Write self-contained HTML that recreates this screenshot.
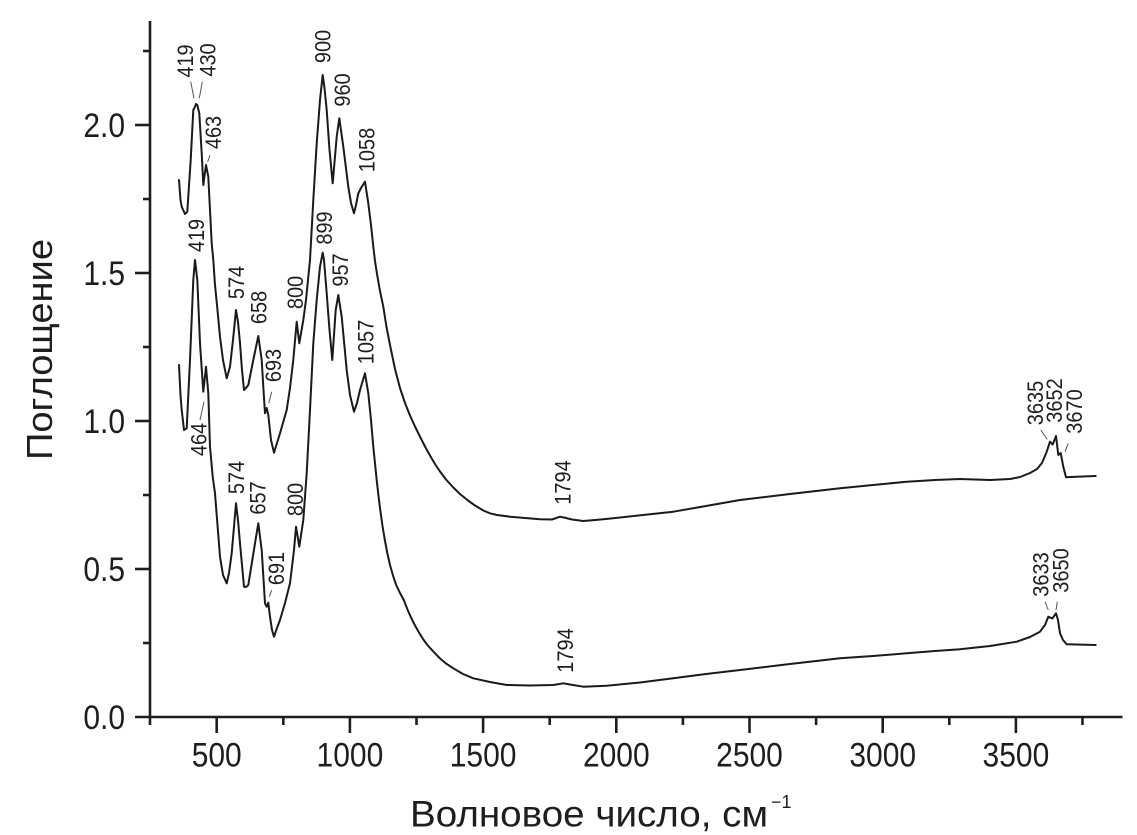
<!DOCTYPE html>
<html><head><meta charset="utf-8"><style>
html,body{margin:0;padding:0;background:#fff;}
svg{display:block;}
text{font-family:"Liberation Sans",Arial,sans-serif;fill:#1e1e1e;}
</style></head><body>
<svg width="1137" height="835" viewBox="0 0 1137 835" xmlns="http://www.w3.org/2000/svg">
<rect width="1137" height="835" fill="#fff"/>
<!-- axes -->
<g stroke="#1e1e1e" stroke-width="2.6" fill="none">
<line x1="150" y1="21" x2="150" y2="725"/>
<line x1="135" y1="717" x2="1122.5" y2="717"/>
<line x1="135" y1="569" x2="150" y2="569"/>
<line x1="135" y1="421" x2="150" y2="421"/>
<line x1="135" y1="273" x2="150" y2="273"/>
<line x1="135" y1="125" x2="150" y2="125"/>
<line x1="143" y1="643" x2="150" y2="643"/>
<line x1="143" y1="495" x2="150" y2="495"/>
<line x1="143" y1="347" x2="150" y2="347"/>
<line x1="143" y1="199" x2="150" y2="199"/>
<line x1="143" y1="51" x2="150" y2="51"/>
<line x1="216.7" y1="717" x2="216.7" y2="733"/>
<line x1="349.9" y1="717" x2="349.9" y2="733"/>
<line x1="483.1" y1="717" x2="483.1" y2="733"/>
<line x1="616.3" y1="717" x2="616.3" y2="733"/>
<line x1="749.5" y1="717" x2="749.5" y2="733"/>
<line x1="882.7" y1="717" x2="882.7" y2="733"/>
<line x1="1015.9" y1="717" x2="1015.9" y2="733"/>
<line x1="283.3" y1="717" x2="283.3" y2="725"/>
<line x1="416.5" y1="717" x2="416.5" y2="725"/>
<line x1="549.7" y1="717" x2="549.7" y2="725"/>
<line x1="682.9" y1="717" x2="682.9" y2="725"/>
<line x1="816.1" y1="717" x2="816.1" y2="725"/>
<line x1="949.3" y1="717" x2="949.3" y2="725"/>
<line x1="1082.5" y1="717" x2="1082.5" y2="725"/>
</g>
<!-- y tick labels -->
<g font-size="30" text-anchor="end">
<text transform="translate(125,717) scale(1,1.15)" y="10.6">0.0</text>
<text transform="translate(125,569) scale(1,1.15)" y="10.6">0.5</text>
<text transform="translate(125,421) scale(1,1.15)" y="10.6">1.0</text>
<text transform="translate(125,273) scale(1,1.15)" y="10.6">1.5</text>
<text transform="translate(125,125) scale(1,1.15)" y="10.6">2.0</text>
</g>
<!-- x tick labels -->
<g font-size="30" text-anchor="middle">
<text transform="translate(216.7,766.5) scale(1,1.15)">500</text>
<text transform="translate(349.9,766.5) scale(1,1.15)">1000</text>
<text transform="translate(483.1,766.5) scale(1,1.15)">1500</text>
<text transform="translate(616.3,766.5) scale(1,1.15)">2000</text>
<text transform="translate(749.5,766.5) scale(1,1.15)">2500</text>
<text transform="translate(882.7,766.5) scale(1,1.15)">3000</text>
<text transform="translate(1015.9,766.5) scale(1,1.15)">3500</text>
</g>
<!-- axis titles -->
<text x="410" y="826.7" font-size="37" textLength="358" lengthAdjust="spacingAndGlyphs">Волновое число, см</text>
<text x="771" y="808" font-size="18">−1</text>
<text transform="translate(52,349.5) rotate(-90)" text-anchor="middle" font-size="36" textLength="221" lengthAdjust="spacingAndGlyphs">Поглощение</text>

<!-- curves -->
<g stroke="#1a1a1a" stroke-width="2" fill="none" stroke-linejoin="round" stroke-linecap="round">
<path d="M179,180 L180.5,200 L181.7,206.7 L185,214 L187.3,211.7 L190.7,160 L193.3,110 L195,106.7 L196,104 L197.3,105 L199.3,113.3 L201.7,153.3 L203.3,185 L206,165 L208.3,176.7 L210,210 L211.7,243.3 L213.3,260 L215,285 L217,305 L220,336.7 L223,360 L226.7,378.3 L230,366.7 L233,340 L236,310 L238,322 L240,343 L242,370 L244,390 L246,388 L248.3,385 L253.3,360 L258.3,336 L261.7,360 L263.5,390 L265,413.3 L266.7,408 L268.3,415 L271,440 L274,452.7 L277,443 L280,433.3 L286.7,410 L290,388 L293.3,360 L296.7,321.7 L299.3,343.3 L303.3,320 L306,300 L310,260 L313.3,200 L316.7,143.3 L320,100 L322.7,75 L324.5,88 L326.7,110 L329.5,150 L332.7,183.3 L336.7,136.7 L339.3,118.3 L343.3,146.7 L348.3,186.7 L351,203 L354,213.3 L356,205 L358.3,193.3 L361,188 L365,181.7 L368.3,203.3 L371,225 L373.3,246.7 L375,261 L377,274 L380,291 L383.3,306.7 L386.5,327 L390,345 L395,369 L400,388 L405,403 L410,415.5 L415,426.5 L420,436.7 L425,446.5 L430,455.5 L435,464 L440,471.5 L446,479.5 L453.3,487.5 L460,494 L468,500.5 L475,505.5 L483.3,510.5 L490,513.3 L497,515 L510,516.7 L525,518 L540,519.3 L552,519.5 L560,516.7 L566,518 L572,519.5 L583.3,521 L598,519.8 L613.3,518.3 L643,515 L673.3,511.7 L706,506 L740,500 L790,494 L840,488.3 L873,485 L906.7,481.7 L935,480 L960,479 L990,480 L1010,479 L1020,477 L1030,473 L1037,469 L1042,463 L1046.7,451.7 L1050,441.7 L1052.7,444.5 L1056,436 L1058.3,455 L1060.7,453 L1063.3,466.7 L1066,477.3 L1070,477 L1095.7,476"/>
<path d="M179,365 L180.5,395 L181.7,410 L184,430 L186.7,428.3 L190,360 L193.3,280 L195,260 L197.3,280 L200,343.3 L203.3,391.7 L206,366.7 L208.3,393.3 L210,446.7 L212.7,476.7 L215,493.3 L220,556.7 L223,575 L226.7,583.3 L229,573 L231.7,553.3 L236,503.3 L238,520 L240,543.3 L244,586.7 L246,587 L248.3,585 L255,543.3 L258.3,523.3 L261.7,550 L265,603.3 L266.7,606.7 L268.3,602.7 L270,616.7 L272,630 L274,636.7 L277,628 L280,620 L285,603 L290,583.3 L294,550 L296,526.7 L299.3,546.7 L303.3,520 L306.7,473.3 L310,410 L313.3,343.3 L316.7,300 L320,266.7 L322.7,252.7 L324,260 L326.7,293.3 L329.5,330 L332.3,360 L335.7,310 L338.3,295 L341.7,316.7 L346.7,370 L350,395 L354,411.7 L357,403 L360,390 L365,373.3 L368.3,393.3 L371,420 L373.3,446.7 L376.7,480 L378.5,496 L380,508 L382.5,526 L385,541 L387.5,554 L390,565 L393,575.5 L396,584.5 L400,593 L403.8,600 L407.5,609.5 L411,617.5 L415,625.5 L419,632.5 L423,639 L427,644.5 L431,649 L434.6,652.8 L440,658.5 L446,663.5 L453.3,668.3 L463,674 L473.3,678.3 L490,682 L506.7,685 L530,685.5 L553.3,685 L563.3,683.3 L570,684.5 L583.3,686.7 L606.7,685.7 L640,682.5 L673.3,678.3 L706,674 L740,670 L790,664 L840,658.3 L873,656 L906.7,653.3 L935,651 L960,649.3 L990,646 L1016.7,641.7 L1030,637 L1040,631.7 L1045,625 L1048.3,616.7 L1052.3,618.5 L1056,613.3 L1058,620 L1060,633.3 L1063,640 L1066.7,644.3 L1095.7,645"/>
</g>
<!-- leader lines -->
<g stroke="#555" stroke-width="1" fill="none">
<line x1="190.7" y1="81.7" x2="194" y2="98.3"/>
<line x1="202.3" y1="81.7" x2="199.3" y2="98.3"/>
<line x1="210" y1="155" x2="207.7" y2="161.7"/>
<line x1="200" y1="420" x2="204" y2="401.7"/>
<line x1="271.7" y1="391.7" x2="268.7" y2="403.3"/>
<line x1="271.7" y1="590" x2="269.3" y2="596.7"/>
<line x1="1040.7" y1="430" x2="1047.3" y2="439.3"/>
<line x1="1068.3" y1="443.3" x2="1065" y2="451.7"/>
<line x1="1045" y1="601.7" x2="1048.3" y2="610"/>
<line x1="1057.3" y1="601.7" x2="1056" y2="610"/>
</g>
<!-- peak labels -->
<g font-size="20" text-anchor="middle">
<text transform="translate(193,61) rotate(-90) scale(1,1.12)">419</text>
<text transform="translate(215.3,60) rotate(-90) scale(1,1.12)">430</text>
<text transform="translate(221,132.5) rotate(-90) scale(1,1.12)">463</text>
<text transform="translate(330.7,46.5) rotate(-90) scale(1,1.12)">900</text>
<text transform="translate(350,90) rotate(-90) scale(1,1.12)">960</text>
<text transform="translate(374.7,150) rotate(-90) scale(1,1.12)">1058</text>
<text transform="translate(204,235.5) rotate(-90) scale(1,1.12)">419</text>
<text transform="translate(332,228) rotate(-90) scale(1,1.12)">899</text>
<text transform="translate(348,270) rotate(-90) scale(1,1.12)">957</text>
<text transform="translate(244,282.5) rotate(-90) scale(1,1.12)">574</text>
<text transform="translate(266.3,307.5) rotate(-90) scale(1,1.12)">658</text>
<text transform="translate(303,292.5) rotate(-90) scale(1,1.12)">800</text>
<text transform="translate(281,365.5) rotate(-90) scale(1,1.12)">693</text>
<text transform="translate(373.5,342) rotate(-90) scale(1,1.12)">1057</text>
<text transform="translate(206.7,439.5) rotate(-90) scale(1,1.12)">464</text>
<text transform="translate(244,477.5) rotate(-90) scale(1,1.12)">574</text>
<text transform="translate(265.3,498) rotate(-90) scale(1,1.12)">657</text>
<text transform="translate(303,499.5) rotate(-90) scale(1,1.12)">800</text>
<text transform="translate(284,568.5) rotate(-90) scale(1,1.12)">691</text>
<text transform="translate(570.7,482.5) rotate(-90) scale(1,1.12)">1794</text>
<text transform="translate(573,650.5) rotate(-90) scale(1,1.12)">1794</text>
<text transform="translate(1043,403) rotate(-90) scale(1,1.12)">3635</text>
<text transform="translate(1062,400.5) rotate(-90) scale(1,1.12)">3652</text>
<text transform="translate(1082,411.5) rotate(-90) scale(1,1.12)">3670</text>
<text transform="translate(1048.7,574.5) rotate(-90) scale(1,1.12)">3633</text>
<text transform="translate(1068.7,570.5) rotate(-90) scale(1,1.12)">3650</text>
</g>
</svg>
</body></html>
